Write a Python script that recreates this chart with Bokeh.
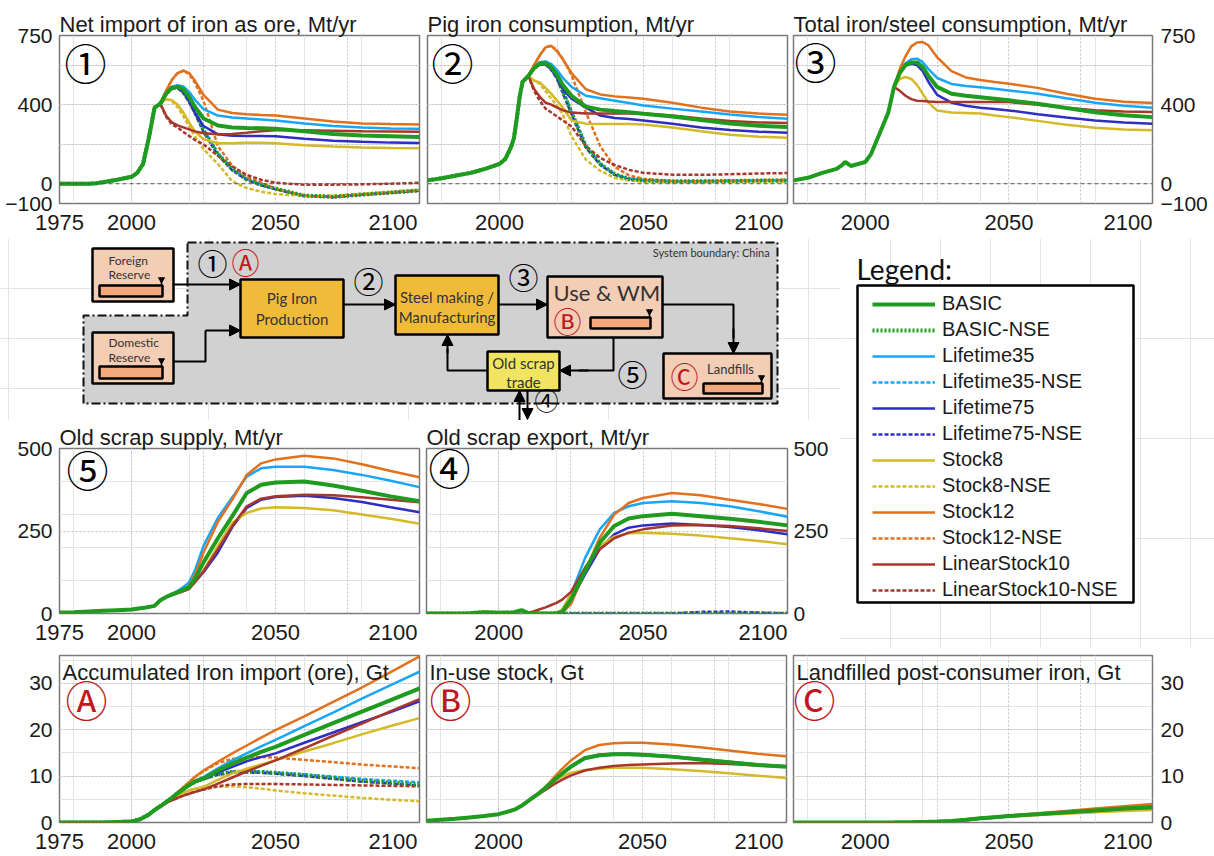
from bokeh.plotting import figure
from bokeh.layouts import row, column
from bokeh.models import (Range1d, FixedTicker, Grid, LinearAxis, Span, Label,
                          Legend, LegendItem, Arrow, NormalHead)
from bokeh.core.properties import value
from bokeh.embed import file_html
from bokeh.resources import INLINE

FONT = "Liberation Sans"
DFONT = "Lato"
CJK = "Noto Sans CJK JP"
TXT = "#1a1a1a"
RED = "#c0161c"
NBSP = "\u00a0"  # padding so the last tick label ends at the frame edge, as in the original

# ---------------- data ----------------
YEARS = [2012, 2014, 2016, 2018, 2020, 2022, 2025, 2030, 2035, 2040, 2045, 2050, 2060, 2070, 2080, 2090, 2100]

# (1) Net import of iron as ore, Mt/yr
ORE_HIST_YEARS = [1975, 1980, 1985, 1988, 1990, 1995, 2000, 2002, 2004, 2006, 2008, 2010]
ORE_HIST = [0, 0, 0, 3, 8, 20, 35, 55, 100, 230, 385, 405]
ORE_BASIC = [455, 485, 490, 478, 440, 390, 330, 295, 285, 282, 281, 278, 265, 252, 244, 240, 236]
ORE_BASIC_NSE = [455, 485, 488, 465, 420, 365, 270, 150, 72, 22, -5, -25, -60, -66, -55, -45, -34]
ORE_L35 = [458, 490, 498, 492, 465, 425, 378, 345, 335, 330, 325, 320, 305, 292, 285, 280, 278]
ORE_L35_NSE = [458, 490, 496, 472, 428, 372, 278, 155, 75, 25, -5, -27, -60, -66, -55, -44, -32]
ORE_L75 = [455, 483, 487, 465, 420, 360, 292, 250, 243, 242, 241, 240, 228, 218, 212, 208, 206]
ORE_L75_NSE = [455, 483, 485, 458, 412, 355, 262, 145, 68, 20, -8, -28, -62, -68, -56, -46, -35]
ORE_S8 = [428, 423, 400, 360, 310, 265, 225, 205, 205, 207, 207, 205, 195, 188, 183, 181, 180]
ORE_S8_NSE = [428, 418, 388, 342, 290, 240, 175, 100, 12, -22, -40, -52, -62, -60, -50, -40, -30]
ORE_S12 = [470, 525, 560, 573, 560, 522, 450, 375, 358, 352, 348, 345, 330, 315, 305, 302, 300]
ORE_S12_NSE = [470, 525, 560, 570, 555, 512, 420, 190, 90, 35, 5, -25, -60, -68, -55, -45, -35]
ORE_LS10 = [345, 310, 295, 285, 275, 265, 255, 250, 252, 258, 265, 270, 270, 268, 265, 264, 263]
ORE_LS10_NSE = [340, 300, 285, 262, 242, 222, 200, 140, 88, 45, 20, 5, -5, -5, -3, 0, 5]

# (2) Pig iron consumption, Mt/yr
PIG_HIST_YEARS = [1975, 1980, 1985, 1990, 1995, 2000, 2002, 2004, 2005, 2006, 2007, 2008, 2010]
PIG_HIST = [17, 28, 42, 55, 75, 100, 125, 185, 230, 330, 440, 515, 545]
PIG_BASIC = [585, 608, 610, 590, 550, 500, 445, 390, 375, 368, 362, 354, 340, 322, 305, 293, 287]
PIG_BASIC_NSE = [585, 608, 608, 585, 540, 465, 360, 190, 100, 48, 25, 17, 12, 12, 14, 16, 17]
PIG_L35 = [590, 615, 619, 605, 575, 535, 490, 445, 432, 420, 408, 396, 380, 365, 350, 338, 329]
PIG_L35_NSE = [590, 615, 617, 595, 550, 475, 368, 195, 102, 50, 26, 18, 13, 13, 15, 17, 18]
PIG_L75 = [585, 605, 605, 580, 535, 478, 430, 385, 345, 333, 327, 320, 303, 285, 272, 263, 258]
PIG_L75_NSE = [585, 605, 603, 575, 530, 458, 352, 182, 95, 45, 22, 14, 10, 10, 12, 14, 15]
PIG_S8 = [522, 512, 485, 455, 420, 385, 320, 304, 302, 302, 302, 300, 285, 265, 248, 238, 233]
PIG_S8_NSE = [522, 505, 468, 430, 395, 350, 240, 122, 65, 30, 16, 10, 8, 8, 9, 10, 10]
PIG_S12 = [600, 650, 690, 698, 670, 630, 560, 478, 452, 442, 436, 430, 410, 385, 365, 355, 349]
PIG_S12_NSE = [600, 650, 690, 698, 675, 630, 550, 360, 190, 85, 42, 25, 14, 14, 16, 18, 20]
PIG_LS10 = [480, 440, 410, 400, 385, 372, 360, 355, 355, 355, 355, 355, 345, 330, 318, 310, 307]
PIG_LS10_NSE = [470, 420, 380, 360, 340, 320, 290, 190, 130, 95, 70, 55, 46, 45, 48, 52, 54]

# (3) Total iron/steel consumption, Mt/yr
TOT_HIST_YEARS = [1975, 1980, 1985, 1990, 1992, 1993, 1995, 2000, 2002, 2004, 2006, 2008, 2010]
TOT_HIST = [17, 30, 55, 75, 95, 110, 90, 110, 150, 220, 290, 360, 490]
TOT_BASIC = [560, 600, 614, 614, 590, 545, 490, 455, 445, 438, 430, 422, 405, 383, 362, 347, 337]
TOT_L35 = [565, 610, 630, 633, 615, 580, 535, 505, 495, 488, 480, 472, 455, 432, 410, 395, 385]
TOT_L75 = [560, 598, 607, 600, 570, 515, 450, 410, 395, 385, 378, 371, 352, 335, 320, 310, 304]
TOT_S8 = [530, 540, 530, 500, 455, 410, 370, 360, 358, 355, 345, 337, 318, 298, 283, 274, 270]
TOT_S12 = [580, 645, 695, 715, 717, 700, 640, 570, 538, 525, 515, 506, 485, 455, 430, 415, 408]
TOT_LS10 = [470, 445, 428, 420, 418, 416, 414, 413, 413, 413, 413, 413, 400, 385, 372, 366, 363]

# (5) Old scrap supply, Mt/yr
SUP_HIST_YEARS = [1975, 1980, 1985, 1990, 1995, 2000, 2005, 2008, 2010]
SUP_HIST = [3, 4, 6, 8, 10, 12, 18, 23, 40]
SUP_BASIC = [50, 58, 65, 72, 80, 105, 155, 228, 295, 365, 390, 397, 400, 388, 372, 355, 340]
SUP_L35 = [50, 58, 68, 80, 95, 130, 205, 290, 352, 415, 440, 445, 445, 435, 420, 402, 383]
SUP_L75 = [50, 56, 62, 68, 75, 95, 125, 185, 262, 320, 345, 353, 357, 350, 338, 322, 307]
SUP_S8 = [50, 56, 62, 68, 75, 95, 130, 205, 275, 305, 318, 322, 320, 313, 300, 287, 272]
SUP_S12 = [50, 57, 63, 70, 85, 115, 185, 278, 345, 420, 455, 467, 478, 470, 452, 432, 413]
SUP_LS10 = [50, 56, 62, 68, 75, 95, 128, 195, 265, 325, 348, 355, 360, 358, 352, 345, 337]

# (4) Old scrap export, Mt/yr
EXP_HIST_YEARS = [1975, 1985, 1990, 1995, 2000, 2005, 2008, 2010]
EXP_HIST = [0, 0, 1, 4, 2, 3, 10, 2]
EXP_BASIC = [0, 0, 0, 0, 0, 5, 42, 130, 215, 265, 288, 295, 302, 295, 287, 278, 267]
EXP_L35 = [0, 0, 0, 0, 2, 10, 58, 170, 255, 305, 325, 335, 340, 335, 325, 310, 293]
EXP_L75 = [0, 0, 0, 0, 0, 4, 38, 120, 195, 240, 260, 267, 273, 268, 262, 252, 240]
EXP_S8 = [0, 0, 0, 0, 3, 12, 58, 140, 205, 233, 243, 245, 242, 236, 228, 220, 210]
EXP_S12 = [0, 0, 0, 0, 0, 3, 28, 130, 230, 300, 335, 350, 365, 358, 345, 332, 317]
EXP_LS10 = [6, 12, 18, 25, 32, 42, 65, 140, 195, 228, 245, 255, 267, 268, 265, 258, 250]
EXP_BASIC_NSE = [0, 0, 0, 0, 0, 0, 0, 0, 0, 0, 0, 0, 0, 0, 0, 0, 0]
EXP_L75_NSE = [0, 0, 0, 0, 0, 0, 0, 0, 0, 0, 0, 0, 0, 5, 6, 3, 0]

# (A) Accumulated iron import (ore), Gt
ACC_HIST_YEARS = [1975, 1990, 2000, 2003, 2006, 2008, 2010]
ACC_HIST = [0, 0, 0.2, 0.7, 1.7, 2.7, 3.5]
ACC_BASIC = [4.4, 5.3, 6.3, 7.2, 8.1, 8.8, 9.5, 11.2, 12.7, 14.0, 15.2, 16.3, 18.9, 21.4, 23.9, 26.4, 28.9]
ACC_BASIC_NSE = [4.4, 5.3, 6.3, 7.2, 8.1, 8.8, 9.5, 10.4, 10.9, 11.0, 10.9, 10.7, 10.2, 9.6, 9.0, 8.6, 8.2]
ACC_L35 = [4.4, 5.3, 6.3, 7.3, 8.2, 9.0, 9.8, 11.7, 13.4, 14.9, 16.4, 17.8, 20.8, 23.7, 26.7, 29.6, 32.5]
ACC_L35_NSE = [4.4, 5.3, 6.3, 7.3, 8.2, 9.0, 9.7, 10.6, 11.0, 11.1, 11.0, 10.8, 10.4, 9.9, 9.4, 9.0, 8.7]
ACC_L75 = [4.4, 5.3, 6.3, 7.2, 8.0, 8.7, 9.4, 10.8, 12.0, 13.2, 14.1, 14.9, 17.2, 19.4, 21.6, 23.8, 26.1]
ACC_L75_NSE = [4.4, 5.3, 6.3, 7.2, 8.0, 8.7, 9.3, 10.3, 10.7, 10.8, 10.7, 10.5, 10.0, 9.4, 8.8, 8.4, 8.0]
ACC_S8 = [4.3, 5.1, 5.8, 6.4, 6.9, 7.3, 7.7, 9.2, 10.6, 11.6, 12.5, 13.4, 15.3, 17.1, 19.0, 20.8, 22.5]
ACC_S8_NSE = [4.3, 5.1, 5.8, 6.4, 6.9, 7.2, 7.4, 7.7, 7.8, 7.6, 7.3, 6.9, 6.3, 5.8, 5.3, 4.9, 4.6]
ACC_S12 = [4.4, 5.4, 6.5, 7.6, 8.7, 9.8, 11.2, 13.1, 14.9, 16.6, 18.3, 19.9, 22.9, 26.0, 29.1, 32.4, 35.8]
ACC_S12_NSE = [4.4, 5.4, 6.5, 7.6, 8.7, 9.8, 11.0, 12.8, 13.7, 14.0, 14.1, 14.0, 13.5, 13.0, 12.5, 12.1, 11.7]
ACC_LS10 = [4.2, 4.8, 5.3, 5.8, 6.2, 6.6, 7.1, 8.4, 9.7, 11.0, 12.2, 13.4, 16.0, 18.7, 21.3, 24.0, 26.6]
ACC_LS10_NSE = [4.2, 4.8, 5.3, 5.8, 6.2, 6.6, 7.1, 7.8, 8.2, 8.3, 8.3, 8.3, 8.2, 8.1, 8.0, 7.9, 7.8]

# (B) In-use stock, Gt
STK_HIST_YEARS = [1975, 1980, 1985, 1990, 1995, 2000, 2003, 2006, 2008, 2010]
STK_HIST = [0.4, 0.6, 0.8, 1.1, 1.4, 1.8, 2.3, 2.9, 3.6, 4.5]
STK_BASIC = [5.4, 6.3, 7.3, 8.4, 9.5, 10.5, 12.0, 13.9, 14.5, 14.7, 14.7, 14.6, 14.2, 13.6, 13.0, 12.4, 12.0]
STK_L35 = [5.4, 6.3, 7.3, 8.4, 9.5, 10.4, 11.9, 13.7, 14.4, 14.6, 14.6, 14.5, 14.1, 13.5, 12.9, 12.4, 12.0]
STK_L75 = [5.4, 6.3, 7.3, 8.4, 9.5, 10.5, 12.0, 13.9, 14.6, 14.8, 14.8, 14.7, 14.3, 13.7, 13.1, 12.5, 12.1]
STK_S8 = [5.4, 6.3, 7.3, 8.3, 9.2, 9.9, 10.7, 11.3, 11.6, 11.8, 11.8, 11.8, 11.5, 11.1, 10.6, 10.1, 9.6]
STK_S12 = [5.4, 6.4, 7.5, 8.8, 10.2, 11.5, 13.3, 15.6, 16.7, 17.1, 17.2, 17.2, 16.8, 16.2, 15.5, 14.8, 14.3]
STK_LS10 = [5.3, 6.1, 6.9, 7.7, 8.5, 9.2, 10.1, 11.2, 11.8, 12.2, 12.4, 12.5, 12.7, 12.8, 12.6, 12.3, 12.0]

# (C) Landfilled post-consumer iron, Gt
LAND_HIST_YEARS = [1975, 1990, 2000, 2010]
LAND_HIST = [0, 0.01, 0.02, 0.05]
LAND_BASIC = [0.06, 0.07, 0.08, 0.1, 0.12, 0.15, 0.2, 0.35, 0.6, 0.9, 1.15, 1.4, 1.8, 2.2, 2.6, 3.0, 3.3]
LAND_L35 = [0.06, 0.07, 0.08, 0.1, 0.13, 0.16, 0.22, 0.4, 0.65, 0.95, 1.2, 1.45, 1.9, 2.35, 2.8, 3.2, 3.6]
LAND_L75 = [0.06, 0.07, 0.08, 0.1, 0.12, 0.14, 0.18, 0.3, 0.5, 0.8, 1.05, 1.3, 1.7, 2.05, 2.4, 2.75, 3.0]
LAND_S8 = [0.06, 0.07, 0.08, 0.1, 0.12, 0.15, 0.19, 0.32, 0.55, 0.8, 1.05, 1.3, 1.6, 1.9, 2.2, 2.5, 2.7]
LAND_S12 = [0.06, 0.07, 0.08, 0.1, 0.12, 0.15, 0.21, 0.38, 0.65, 0.95, 1.25, 1.5, 2.0, 2.5, 3.0, 3.5, 4.0]
LAND_LS10 = [0.06, 0.07, 0.08, 0.1, 0.12, 0.15, 0.2, 0.34, 0.58, 0.88, 1.12, 1.38, 1.75, 2.15, 2.55, 2.9, 3.2]

LEGEND_ORDER = ["BASIC", "BASIC-NSE", "Lifetime35", "Lifetime35-NSE", "Lifetime75", "Lifetime75-NSE",
                "Stock8", "Stock8-NSE", "Stock12", "Stock12-NSE", "LinearStock10", "LinearStock10-NSE"]
DRAW_ORDER = ["Lifetime35", "Lifetime75", "Stock8", "Stock12", "LinearStock10", "BASIC"]
COLORS = {"BASIC": "#1f9c1f", "Lifetime35": "#1aa6f7", "Lifetime75": "#2e2ec4",
          "Stock8": "#d4b928", "Stock12": "#e2711d", "LinearStock10": "#a8372b"}


def style_of(name):
    base = name.replace("-NSE", "")
    nse = name.endswith("-NSE")
    width = 4 if base == "BASIC" else 2.5
    if nse:
        dash = "2 2" if base == "BASIC" else "4 2"
    else:
        dash = "solid"
    return dict(line_color=COLORS[base], line_width=width, line_dash=dash)


def style_axis(ax, standoff, size):
    ax.axis_line_color = None
    ax.major_tick_line_color = None
    ax.minor_tick_line_color = None
    ax.major_tick_out = 0
    ax.major_tick_in = 0
    ax.minor_tick_out = 0
    ax.minor_tick_in = 0
    ax.major_label_text_font = FONT
    ax.major_label_text_font_size = size
    ax.major_label_text_color = TXT
    ax.major_label_standoff = standoff


def make_panel(width, height, ml, mr, mt, mb, yr, yticks, ygrid, yside, ystand,
               xticks, xstand, title=None, zero=False):
    kw = dict(width=width, height=height, x_range=Range1d(1975, 2100), y_range=Range1d(*yr),
              output_backend="svg", toolbar_location=None, tools="",
              x_axis_location=None, y_axis_location=None,
              min_border_left=ml, min_border_right=mr, min_border_top=mt, min_border_bottom=mb)
    if title:
        kw["title"] = title
    p = figure(**kw)
    if title:
        p.title.text_font = FONT
        p.title.text_font_size = "22px"
        p.title.text_font_style = "normal"
        p.title.text_color = TXT
        p.title.standoff = -3
        p.title.align = "left"
        p.title.offset = 0
    p.outline_line_color = "#7a7a7a"
    p.outline_line_width = 1.5
    p.background_fill_color = "white"
    p.border_fill_color = "white"
    xa = LinearAxis(ticker=FixedTicker(ticks=xticks + [2100]))
    # wide right border: pad so the label ends at the frame edge; narrow border: the label is kept in the canvas
    xa.major_label_overrides = {2100: "2100" + NBSP * (8 if mr >= 40 else 1)}
    style_axis(xa, xstand, "22px")
    p.add_layout(xa, "below")
    if yside:
        ya = LinearAxis(ticker=FixedTicker(ticks=yticks))
        style_axis(ya, ystand, "21px")
        p.add_layout(ya, yside)
    p.add_layout(Grid(dimension=0, ticker=FixedTicker(ticks=[2000, 2025, 2050, 2075]),
                      grid_line_color="#c4c4c4", grid_line_dash="2 2", grid_line_width=1))
    p.add_layout(Grid(dimension=1, ticker=FixedTicker(ticks=ygrid),
                      grid_line_color="#c4c4c4", grid_line_dash="2 2", grid_line_width=1))
    if zero:
        p.add_layout(Span(location=0, dimension="width", line_color="#555555",
                          line_dash="4 3", line_width=1))
    return p


def draw(p, hx, hy, series, names):
    for n in names:
        p.line(hx + YEARS, hy + series[n], **style_of(n))


def mark(p, sym, x, y, color="black", size="42px"):
    p.add_layout(Label(x=x, y=y, x_units="screen", y_units="screen", text=sym,
                       text_font=CJK, text_font_size=size, text_color=color,
                       text_align="center", text_baseline="middle"))


def inner_title(p, text, fh):
    p.add_layout(Label(x=3, y=fh - 4, x_units="screen", y_units="screen", text=text,
                       text_font=FONT, text_font_size="22px", text_color=TXT,
                       text_align="left", text_baseline="top"))


NSE_NAMES = [n + "-NSE" for n in DRAW_ORDER]

ORE = {"BASIC": ORE_BASIC, "BASIC-NSE": ORE_BASIC_NSE, "Lifetime35": ORE_L35, "Lifetime35-NSE": ORE_L35_NSE,
       "Lifetime75": ORE_L75, "Lifetime75-NSE": ORE_L75_NSE, "Stock8": ORE_S8, "Stock8-NSE": ORE_S8_NSE,
       "Stock12": ORE_S12, "Stock12-NSE": ORE_S12_NSE, "LinearStock10": ORE_LS10, "LinearStock10-NSE": ORE_LS10_NSE}
PIG = {"BASIC": PIG_BASIC, "BASIC-NSE": PIG_BASIC_NSE, "Lifetime35": PIG_L35, "Lifetime35-NSE": PIG_L35_NSE,
       "Lifetime75": PIG_L75, "Lifetime75-NSE": PIG_L75_NSE, "Stock8": PIG_S8, "Stock8-NSE": PIG_S8_NSE,
       "Stock12": PIG_S12, "Stock12-NSE": PIG_S12_NSE, "LinearStock10": PIG_LS10, "LinearStock10-NSE": PIG_LS10_NSE}
TOT = {"BASIC": TOT_BASIC, "Lifetime35": TOT_L35, "Lifetime75": TOT_L75, "Stock8": TOT_S8,
       "Stock12": TOT_S12, "LinearStock10": TOT_LS10}
SUP = {"BASIC": SUP_BASIC, "Lifetime35": SUP_L35, "Lifetime75": SUP_L75, "Stock8": SUP_S8,
       "Stock12": SUP_S12, "LinearStock10": SUP_LS10}
EXP = {"BASIC": EXP_BASIC, "Lifetime35": EXP_L35, "Lifetime75": EXP_L75, "Stock8": EXP_S8,
       "Stock12": EXP_S12, "LinearStock10": EXP_LS10,
       "BASIC-NSE": EXP_BASIC_NSE, "Lifetime75-NSE": EXP_L75_NSE}
ACC = {"BASIC": ACC_BASIC, "BASIC-NSE": ACC_BASIC_NSE, "Lifetime35": ACC_L35, "Lifetime35-NSE": ACC_L35_NSE,
       "Lifetime75": ACC_L75, "Lifetime75-NSE": ACC_L75_NSE, "Stock8": ACC_S8, "Stock8-NSE": ACC_S8_NSE,
       "Stock12": ACC_S12, "Stock12-NSE": ACC_S12_NSE, "LinearStock10": ACC_LS10, "LinearStock10-NSE": ACC_LS10_NSE}
STK = {"BASIC": STK_BASIC, "Lifetime35": STK_L35, "Lifetime75": STK_L75, "Stock8": STK_S8,
       "Stock12": STK_S12, "LinearStock10": STK_LS10}
LAND = {"BASIC": LAND_BASIC, "Lifetime35": LAND_L35, "Lifetime75": LAND_L75, "Stock8": LAND_S8,
        "Stock12": LAND_S12, "LinearStock10": LAND_LS10}

# ---------------- row 1 (page y 0-238) ----------------
Y1 = (-100, 750)
T1 = [-100, 0, 400, 750]
G1 = [200, 400, 600]
p1 = make_panel(423, 238, 59, 4, 35, 35, Y1, T1, G1, "left", 7, [1975, 2000, 2050], 6,
                title="Net import of iron as ore, Mt/yr", zero=True)
draw(p1, ORE_HIST_YEARS, ORE_HIST, ORE, NSE_NAMES + DRAW_ORDER)
mark(p1, "①", 26, 142)

p2 = make_panel(366, 238, 4, 2, 35, 35, Y1, T1, G1, None, 7, [2000, 2050], 6,
                title="Pig iron consumption, Mt/yr", zero=True)
draw(p2, PIG_HIST_YEARS, PIG_HIST, PIG, NSE_NAMES + DRAW_ORDER)
mark(p2, "②", 25, 142)

p3 = make_panel(425, 238, 4, 62, 35, 35, Y1, T1, G1, "right", 8, [2000, 2050], 6,
                title="Total iron/steel consumption, Mt/yr", zero=True)
draw(p3, TOT_HIST_YEARS, TOT_HIST, TOT, DRAW_ORDER)
mark(p3, "③", 22, 143)

# ---------------- row 2 (page y 420-647) ----------------
p5 = make_panel(423, 227, 59, 4, 28, 32, (0, 500), [0, 250, 500], [250], "left", 7,
                [1975, 2000, 2050], 6, title="Old scrap supply, Mt/yr")
draw(p5, SUP_HIST_YEARS, SUP_HIST, SUP, DRAW_ORDER)
mark(p5, "⑤", 28, 145)

p4 = make_panel(417, 227, 3, 53, 28, 32, (0, 500), [0, 250, 500], [250], "right", 6,
                [2000, 2050], 6, title="Old scrap export, Mt/yr")
draw(p4, EXP_HIST_YEARS, EXP_HIST, EXP, ["Lifetime75-NSE"] + DRAW_ORDER + ["BASIC-NSE"])
mark(p4, "④", 23, 147)

# ---------------- row 3 (page y 647-856) ----------------
Y3 = (0, 36)
T3 = [0, 10, 20, 30]
pA = make_panel(423, 209, 59, 4, 8, 34, Y3, T3, [10, 20, 30], "left", 7, [1975, 2000, 2050], 6)
draw(pA, ACC_HIST_YEARS, ACC_HIST, ACC, NSE_NAMES + DRAW_ORDER)
inner_title(pA, "Accumulated Iron import (ore), Gt", 167)
mark(pA, "Ⓐ", 27, 124, RED)

pB = make_panel(366, 209, 3, 3, 8, 34, Y3, T3, [10, 20, 30], None, 7, [2000, 2050], 6)
draw(pB, STK_HIST_YEARS, STK_HIST, STK, DRAW_ORDER)
inner_title(pB, "In-use stock, Gt", 167)
mark(pB, "Ⓑ", 24, 124, RED)

pC = make_panel(425, 209, 4, 62, 8, 34, Y3, T3, [10, 20, 30], "right", 8, [2000, 2050], 6)
draw(pC, LAND_HIST_YEARS, LAND_HIST, LAND, DRAW_ORDER)
inner_title(pC, "Landfilled post-consumer iron, Gt", 167)
mark(pC, "Ⓒ", 21, 124, RED)

# ---------------- flow diagram (page x 0-840, y 238-420) ----------------
PEACH = "#f3cdb4"
GOLD = "#f1bb3a"
YELLOW = "#f0e462"
SALMON = "#f4a97d"
DTXT = "#333333"

d = figure(width=840, height=182, x_range=Range1d(-8, 832), y_range=Range1d(182, 0),
           output_backend="svg", toolbar_location=None, tools="",
           x_axis_location=None, y_axis_location=None, min_border=0)
d.outline_line_color = None
d.patch([179, 769, 769, 75, 75, 179], [4, 4, 165, 165, 77, 77], fill_color="#d1d1d1",
        line_color="#111111", line_width=2, line_dash="9 3 2 3")

boxes = [(84, 165, 10, 63, PEACH), (84, 165, 94, 145, PEACH), (232, 335, 41, 99, GOLD),
         (387, 490, 37, 96, GOLD), (539, 654, 38, 99, PEACH), (655, 763, 115, 160, PEACH),
         (479, 551, 113, 152, YELLOW)]
d.quad(left=[b[0] for b in boxes], right=[b[1] for b in boxes], top=[b[2] for b in boxes],
       bottom=[b[3] for b in boxes], fill_color=[b[4] for b in boxes], line_color="black", line_width=2.5)
bars = [(91, 154, 47, 58), (91, 154, 128, 140), (582, 642, 79, 90), (695, 754, 145, 155)]
d.quad(left=[b[0] for b in bars], right=[b[1] for b in bars], top=[b[2] for b in bars],
       bottom=[b[3] for b in bars], fill_color=SALMON, line_color="black", line_width=2.5)
d.segment(x0=[b[1] - 1 for b in bars], y0=[b[2] - 6 for b in bars], x1=[b[1] - 1 for b in bars],
          y1=[b[2] for b in bars], line_color="black", line_width=1.5)
d.scatter(x=[b[1] - 1 for b in bars], y=[b[2] - 6 for b in bars], marker="inverted_triangle",
          size=6, color="black")

for xs, ys in [([165, 197, 197], [123, 123, 92]), ([654, 725, 725], [66, 66, 100]),
               ([605, 605, 570], [99, 132, 132]), ([479, 439, 439], [132, 132, 110])]:
    d.line(xs, ys, line_color="black", line_width=2)
arrows = [(165, 46, 232, 46), (197, 92, 232, 92), (335, 66, 387, 66), (490, 66, 539, 66),
          (725, 90, 725, 115), (580, 132, 551, 132), (439, 115, 439, 96),
          (511, 182, 511, 152), (519, 152, 519, 181)]
for x0, y0, x1, y1 in arrows:
    d.add_layout(Arrow(end=NormalHead(size=11, fill_color="black", line_color="black"),
                       x_start=x0, y_start=y0, x_end=x1, y_end=y1,
                       line_color="black", line_width=2))

d.text(x=[100, 100, 100, 100], y=[22, 36, 104, 119], text=["Foreign", "Reserve", "Domestic", "Reserve"],
       text_font=value(DFONT), text_font_size="12px", text_color=DTXT,
       text_align="left", text_baseline="middle")
d.text(x=[283.5, 283.5, 438.5, 438.5, 515, 515], y=[59, 80, 58, 78, 124, 143],
       text=["Pig Iron", "Production", "Steel making /", "Manufacturing", "Old scrap", "trade"],
       text_font=value(DFONT), text_font_size="15px", text_color=DTXT,
       text_align="center", text_baseline="middle")
d.text(x=[545], y=[54], text=["Use & WM"], text_font=value(DFONT), text_font_size="22px",
       text_color=DTXT, text_align="left", text_baseline="middle")
d.text(x=[722], y=[130], text=["Landfills"], text_font=value(DFONT), text_font_size="13px",
       text_color=DTXT, text_align="center", text_baseline="middle")
d.text(x=[764], y=[14], text=["System boundary:  China"], text_font=value(DFONT), text_font_size="11px",
       text_color=DTXT, text_align="right", text_baseline="middle")
d.text(x=[204, 360, 515, 624], y=[23, 41, 37, 134], text=["①", "②", "③", "⑤"],
       text_font=value(CJK), text_font_size="30px", text_color="black",
       text_align="center", text_baseline="middle")
d.text(x=[538], y=[161], text=["④"], text_font=value(CJK), text_font_size="24px", text_color="black",
       text_align="center", text_baseline="middle")
d.text(x=[237, 559, 676], y=[23, 82, 137], text=["Ⓐ", "Ⓑ", "Ⓒ"],
       text_font=value(CJK), text_font_size="28px", text_color=RED,
       text_align="center", text_baseline="middle")

# ---------------- legend (page x 840-1214, y 238-647) ----------------
lg = figure(width=374, height=409, x_range=Range1d(0, 374), y_range=Range1d(409, 0),
            output_backend="svg", toolbar_location=None, tools="",
            x_axis_location=None, y_axis_location=None, min_border=0)
lg.outline_line_color = None
lg.quad(left=[17], right=[293], top=[47], bottom=[364], fill_color="white",
        line_color="black", line_width=2.5)
lg.text(x=[16], y=[30], text=["Legend:"], text_font=value(DFONT), text_font_size="28px",
        text_color="#111111", text_align="left", text_baseline="middle")
items = []
for name in LEGEND_ORDER:
    # legend-key renderers carry the scenario's own series; the data lie outside this panel's view
    r = lg.line(x=YEARS, y=ACC[name], **style_of(name))
    items.append(LegendItem(label=name, renderers=[r]))
leg = Legend(items=items, location=(32, 46), padding=0, margin=0, spacing=3,
             label_height=20, glyph_height=20, glyph_width=63, label_standoff=7,
             label_text_font=FONT, label_text_font_size="20px", label_text_color=TXT,
             border_line_color=None, background_fill_alpha=0)
lg.add_layout(leg)

layout = column(row(p1, p2, p3),
                row(column(d, row(p5, p4)), lg),
                row(pA, pB, pC))

open("out.html", "w").write(file_html(layout, INLINE))
